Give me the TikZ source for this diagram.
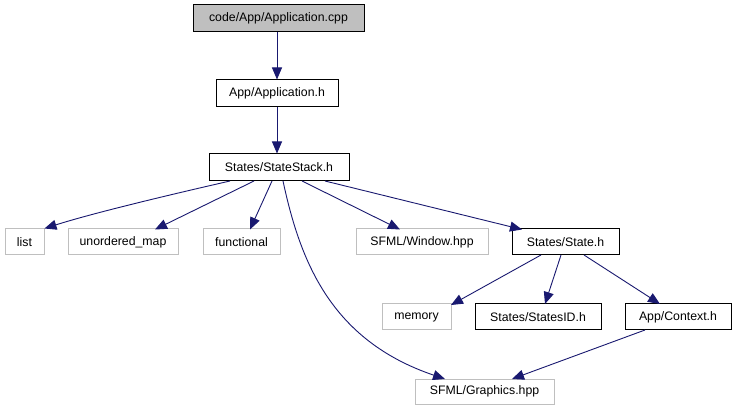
\documentclass[tikz,border=0pt]{standalone}
\usepackage{fontspec}
\setmainfont{Liberation Sans}
\usetikzlibrary{arrows.meta}
\definecolor{edgec}{HTML}{191970}
\definecolor{extc}{HTML}{BFBFBF}
\begin{document}
\begin{tikzpicture}[x=1pt,y=-1pt,
  box/.style={draw=black,line width=1pt,fill=white,inner sep=0pt,font=\fontsize{12.3}{14}\selectfont,anchor=center},
  ext/.style={box,draw=extc},
  cur/.style={box,fill=extc},
  edge/.style={draw=edgec,line width=0.9pt,-{Triangle[length=12pt,width=10pt]}}]
\useasboundingbox[fill=white] (0,0) rectangle (736,411);
\newcommand{\bx}[6]{\node[#1,minimum width=#4-#2,minimum height=#5-#3] (#6) at ({(#2+#4)/2},{(#3+#5)/2})}
\bx{cur}{193}{5}{364}{32}{cpp} {code/App/Application.cpp};
\bx{box}{216}{80}{338}{107}{apph} {App/Application.h};
\bx{box}{209}{154}{349}{181}{stack} {States/StateStack.h};
\bx{ext}{5}{229}{44}{255}{list} {list};
\bx{ext}{68}{229}{178}{255}{umap} {unordered\_map};
\bx{ext}{203}{229}{280}{255}{func} {functional};
\bx{ext}{356}{229}{488}{255}{win} {SFML/Window.hpp};
\bx{box}{512}{229}{619}{255}{state} {States/State.h};
\bx{ext}{382}{304}{451}{330}{mem} {memory};
\bx{box}{475}{304}{601}{330}{sid} {States/StatesID.h};
\bx{box}{625}{304}{731}{330}{ctx} {App/Context.h};
\bx{ext}{415}{379}{554}{404}{gfx} {SFML/Graphics.hpp};
\coordinate (s1) at (230,181);
\coordinate (s2) at (254,181);
\coordinate (s3) at (272,181);
\coordinate (s4) at (283,181);
\coordinate (s5) at (302,181);
\coordinate (s6) at (325,181);
\draw[edge] (cpp.south -| apph.north) -- (apph.north);
\draw[edge] (apph.south) -- (stack.north -| apph.south);
\draw[edge] (s1) .. controls (160,197) and (90,214) .. (list.north east);
\draw[edge] (s2) -- (155,229.5);
\draw[edge] (s3) -- (250,229.5);
\draw[edge] (s4) .. controls (300,260) and (330,340) .. (445,379);
\draw[edge] (s5) -- (400,229.5);
\draw[edge] (s6) -- (522,229.5);
\draw[edge] (541,255) -- (451,305);
\draw[edge] (561,255) -- (545,304);
\draw[edge] (584,255) -- (660,304);
\draw[edge] (645,330) -- (512,379);
\end{tikzpicture}
\end{document}
